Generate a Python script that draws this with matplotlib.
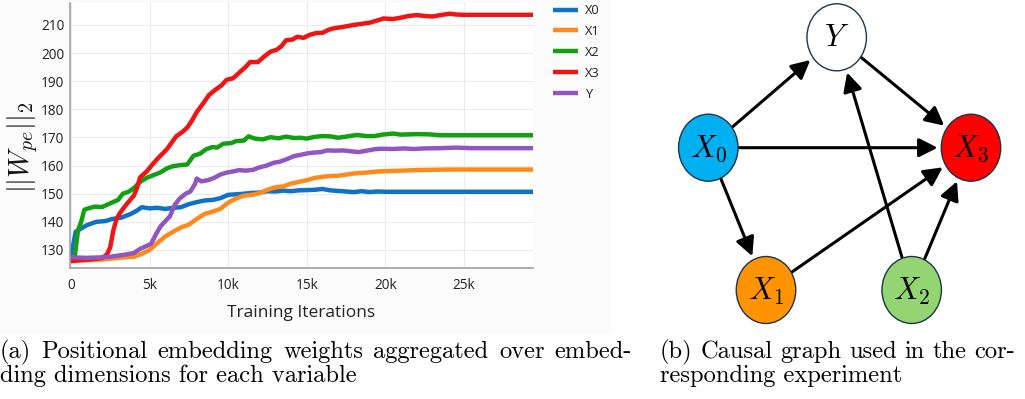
import matplotlib
matplotlib.use("Agg")
import matplotlib.pyplot as plt
from matplotlib.patches import Ellipse, Rectangle

plt.rcParams['mathtext.fontset'] = 'cm'
plt.rcParams['font.family'] = ['Open Sans', 'DejaVu Sans']

# ---------------- data (iterations in thousands) ----------------
x0_it = [0, 0.3, 0.7, 1.0, 1.6, 2.2, 2.6, 3.2, 3.8, 4.2, 4.5, 5.0, 5.5, 6.0, 6.5, 7.0, 7.5, 8.0, 8.5, 9.0,
         9.5, 10.0, 10.5, 11.0, 11.5, 12.0, 12.5, 13.0, 13.5, 14.0, 14.5, 15.0, 15.5, 16.0, 16.5, 17.0,
         17.5, 18.0, 18.5, 19.0, 19.5, 20.0, 22.0, 24.0, 26.0, 28.0, 29.4]
x0_val = [127.5, 136.5, 137.8, 138.8, 140.0, 140.3, 141.0, 141.5, 142.8, 144.0, 145.2, 144.8, 145.0, 144.6,
          145.0, 145.2, 146.3, 147.0, 147.6, 147.8, 148.4, 149.6, 149.8, 150.0, 150.3, 150.4, 150.9, 150.8,
          151.1, 150.9, 151.2, 151.3, 151.4, 151.7, 151.2, 151.0, 150.8, 150.6, 150.9, 150.6, 150.8, 150.7,
          150.7, 150.7, 150.7, 150.7, 150.7]

x1_it = [0, 1, 2, 2.5, 3, 3.5, 4, 4.5, 5, 5.5, 6, 6.5, 7, 7.5, 8, 8.5, 9, 9.5, 10, 10.5, 11, 11.5, 12,
         12.5, 13, 13.5, 14, 14.5, 15, 15.5, 16, 16.5, 17, 17.5, 18, 18.5, 19, 19.5, 20, 21, 22, 23, 24,
         26, 29.4]
x1_val = [126.2, 126.4, 126.6, 126.9, 127.2, 127.4, 127.6, 128.6, 130.0, 132.5, 134.8, 136.5, 138.0, 139.0,
          141.0, 142.8, 143.6, 144.6, 146.8, 148.3, 149.3, 149.6, 150.2, 151.4, 152.3, 152.6, 153.6, 154.2,
          154.8, 155.6, 156.0, 156.3, 156.4, 156.8, 157.2, 157.4, 157.6, 157.9, 158.0, 158.2, 158.4, 158.5,
          158.6, 158.6, 158.6]

x2_it = [0, 0.25, 0.45, 0.65, 0.85, 1.1, 1.5, 2.0, 2.5, 3.0, 3.3, 3.7, 4.0, 4.4, 4.8, 5.2, 5.7, 6.1, 6.5,
         7.0, 7.4, 7.8, 8.2, 8.6, 9.0, 9.3, 9.7, 10.2, 10.5, 11.0, 11.3, 11.7, 12.2, 12.7, 13.2, 13.7,
         14.2, 14.6, 15.0, 15.5, 16.0, 16.5, 17.0, 17.5, 18.2, 18.8, 19.3, 19.8, 20.5, 21.0, 21.5, 22.0,
         22.8, 23.5, 24.3, 26.0, 29.4]
x2_val = [126.0, 128.0, 137.0, 140.0, 144.3, 144.8, 145.4, 145.3, 146.6, 147.8, 150.0, 150.8, 152.0, 154.2,
          155.6, 156.5, 157.6, 159.0, 159.8, 160.2, 160.4, 163.5, 164.2, 165.8, 166.6, 166.4, 167.8, 168.0,
          168.7, 168.9, 170.4, 169.6, 169.3, 170.1, 169.7, 170.3, 169.8, 169.9, 169.6, 170.2, 170.5, 170.4,
          169.9, 170.3, 170.9, 170.5, 170.5, 171.0, 171.4, 171.0, 171.1, 171.2, 171.1, 170.8, 170.8, 170.8,
          170.8]

x3_it = [0, 0.5, 1.0, 1.5, 2.0, 2.3, 2.5, 2.7, 2.9, 3.1, 3.5, 3.8, 4.0, 4.2, 4.4, 4.8, 5.2, 5.5, 6.1, 6.7,
         7.1, 7.4, 7.7, 8.0, 8.4, 8.8, 9.2, 9.6, 9.9, 10.3, 10.7, 11.1, 11.4, 11.9, 12.3, 12.7, 13.1, 13.4,
         13.7, 14.1, 14.4, 14.8, 15.2, 15.6, 16.0, 16.4, 16.8, 17.2, 17.6, 18.0, 18.5, 19.0, 19.5, 19.9,
         20.5, 21.0, 21.5, 22.0, 22.5, 23.0, 23.5, 24.1, 24.5, 25.0, 29.4]
x3_val = [126.0, 126.3, 126.5, 126.8, 127.2, 128.5, 131.0, 137.0, 141.0, 143.0, 146.0, 148.0, 149.3, 152.0,
          155.8, 157.8, 160.5, 162.4, 165.8, 170.4, 172.0, 173.5, 176.0, 179.0, 182.0, 185.2, 187.0, 188.6,
          190.5, 191.0, 193.0, 195.0, 196.8, 196.8, 198.8, 200.5, 201.2, 202.5, 204.6, 204.8, 205.8, 205.4,
          206.5, 207.1, 207.2, 208.3, 208.9, 209.2, 209.6, 210.0, 210.4, 210.8, 211.6, 212.3, 212.1, 212.6,
          213.2, 213.5, 213.2, 213.0, 213.5, 214.0, 213.7, 213.6, 213.6]

y_it = [0, 1, 2, 2.5, 3.0, 3.5, 4.0, 4.4, 4.8, 5.1, 5.4, 5.7, 6.0, 6.3, 6.6, 6.9, 7.3, 7.6, 7.9, 8.0, 8.3,
        8.7, 9.1, 9.5, 9.9, 10.3, 10.7, 11.1, 11.6, 12.0, 12.4, 12.9, 13.3, 13.7, 14.2, 14.6, 15.0, 15.4,
        15.9, 16.3, 16.8, 17.3, 17.8, 18.3, 18.8, 19.3, 19.7, 20.5, 21.2, 21.8, 22.5, 23.5, 24.5, 25.5, 29.4]
y_val = [127.4, 127.2, 127.4, 127.6, 128.0, 128.4, 128.9, 130.4, 131.4, 132.2, 135.5, 138.4, 140.2, 142.0,
         146.0, 148.2, 150.0, 150.8, 153.5, 155.4, 154.4, 154.8, 155.6, 156.8, 157.5, 157.9, 158.4, 158.2,
         158.5, 159.4, 159.9, 161.0, 161.4, 162.2, 163.4, 163.8, 164.3, 164.6, 164.8, 165.4, 165.3, 165.4,
         165.1, 164.8, 165.3, 165.8, 166.0, 165.9, 166.1, 165.9, 166.1, 166.2, 166.4, 166.2, 166.2]

series_labels = ['X0', 'X1', 'X2', 'X3', 'Y']
series_its = [x0_it, x1_it, x2_it, x3_it, y_it]
series_vals = [x0_val, x1_val, x2_val, x3_val, y_val]
series_colors = ['#0f72c6', '#ff8a1c', '#12a012', '#f01414', '#9256c2']

xtick_vals = [0, 5000, 10000, 15000, 20000, 25000]
xtick_labels = ['0', '5k', '10k', '15k', '20k', '25k']
ytick_vals = [130, 140, 150, 160, 170, 180, 190, 200, 210]

# causal graph
node_names = ['Y', 'X0', 'X1', 'X2', 'X3']
node_labels = [r'$Y$', r'$X_0$', r'$X_1$', r'$X_2$', r'$X_3$']
node_x = [836.7, 708.3, 766.0, 911.7, 971.0]
node_y = [37.3, 147.7, 290.0, 290.0, 147.7]
node_colors = ['#ffffff', '#00b0f0', '#ff9300', '#92d572', '#ff0000']
edges = [('X0', 'Y'), ('Y', 'X3'), ('X0', 'X3'), ('X0', 'X1'), ('X1', 'X3'), ('X2', 'Y'), ('X2', 'X3')]

caption_a = ['(a) Positional embedding weights aggregated over embed-',
             'ding dimensions for each variable']
caption_b = ['(b) Causal graph used in the cor-',
             'responding experiment']

# ---------------- figure ----------------
W, H = 1025, 399
fig = plt.figure(figsize=(W / 100, H / 100), dpi=100)
fig.patch.set_facecolor('white')
fig.add_artist(Rectangle((0, 1 - 333 / H), 611 / W, 333 / H, transform=fig.transFigure,
                         facecolor='#fbfbfb', edgecolor='none', zorder=0))

ax = fig.add_axes([70 / W, 1 - 268 / H, (533 - 70) / W, (268 - 3) / H])
ax.set_facecolor('white')
for lab, its, vals, col in zip(series_labels, series_its, series_vals, series_colors):
    ax.plot([v * 1000 for v in its], vals, color=col, lw=3.2, label=lab,
            solid_joinstyle='round', solid_capstyle='butt')
ax.set_xlim(-60, 29400)
ax.set_ylim(123.6, 217.8)
ax.set_xticks(xtick_vals)
ax.set_xticklabels(xtick_labels)
ax.set_yticks(ytick_vals)
ax.tick_params(axis='both', length=0, labelsize=9.8, colors='#222222')
ax.tick_params(axis='x', pad=7)
ax.tick_params(axis='y', pad=4)
ax.grid(True, color='#ebebeb', lw=0.8)
ax.set_axisbelow(True)
for s in ['top', 'right']:
    ax.spines[s].set_visible(False)
for s in ['left', 'bottom']:
    ax.spines[s].set_color('#a0a0a0')
    ax.spines[s].set_linewidth(1.2)
ax.set_xlabel('Training Iterations', fontsize=12.5, color='#222222', labelpad=9)
fig.text(22.5 / W, 1 - 147.5 / H, r'$||W_{pe}||_2$', rotation=90, ha='center', va='center',
         fontsize=20.5, color='#111111')

leg = ax.legend(loc='upper left', bbox_to_anchor=(553 / W, 1 - 4 / H), bbox_transform=fig.transFigure,
                frameon=False, fontsize=9.2, handlelength=1.95, handletextpad=0.55,
                labelspacing=0.62, borderaxespad=0, borderpad=0)
for t in leg.get_texts():
    t.set_color('#222222')

# ---------------- causal graph ----------------
gx = fig.add_axes([640 / W, 1 - 330 / H, 385 / W, 330 / H])
gx.set_xlim(640, 1025)
gx.set_ylim(330, 0)
gx.axis('off')
patches = {}
for name, lab, cx, cy, col in zip(node_names, node_labels, node_x, node_y, node_colors):
    e = Ellipse((cx, cy), 59.5, 67, facecolor=col, edgecolor='#1d3545', lw=1.0, zorder=3)
    gx.add_patch(e)
    patches[name] = e
    gx.text(cx, cy + 1, lab, ha='center', va='center', fontsize=22, zorder=4)
for a, b in edges:
    ia, ib = node_names.index(a), node_names.index(b)
    gx.annotate('', xy=(node_x[ib], node_y[ib]), xytext=(node_x[ia], node_y[ia]),
                arrowprops=dict(arrowstyle='-|>,head_length=0.75,head_width=0.38', color='black',
                                lw=2.2, shrinkA=1, shrinkB=3, patchA=patches[a], patchB=patches[b],
                                mutation_scale=15), zorder=2)

# ---------------- captions ----------------
renderer = fig.canvas.get_renderer()
CAP_FS = 17.6


def draw_line(text, x_left, y_px, x_right=None):
    if x_right is None:
        fig.text(x_left / W, 1 - y_px / H, text, family='cmr10', fontsize=CAP_FS,
                 ha='left', va='center')
        return
    words = text.split(' ')
    arts = [fig.text(0, 1 - y_px / H, w, family='cmr10', fontsize=CAP_FS, ha='left', va='center')
            for w in words]
    widths = [t.get_window_extent(renderer).width for t in arts]
    gap = (x_right - x_left - sum(widths)) / (len(words) - 1)
    xpos = x_left
    for t, wd in zip(arts, widths):
        t.set_x(xpos / W)
        xpos += wd + gap


draw_line(caption_a[0], 0, 352, 632)
draw_line(caption_a[1], 0, 376)
draw_line(caption_b[0], 660, 352, 1015)
draw_line(caption_b[1], 660, 376)

fig.savefig('out.png', dpi=100)
